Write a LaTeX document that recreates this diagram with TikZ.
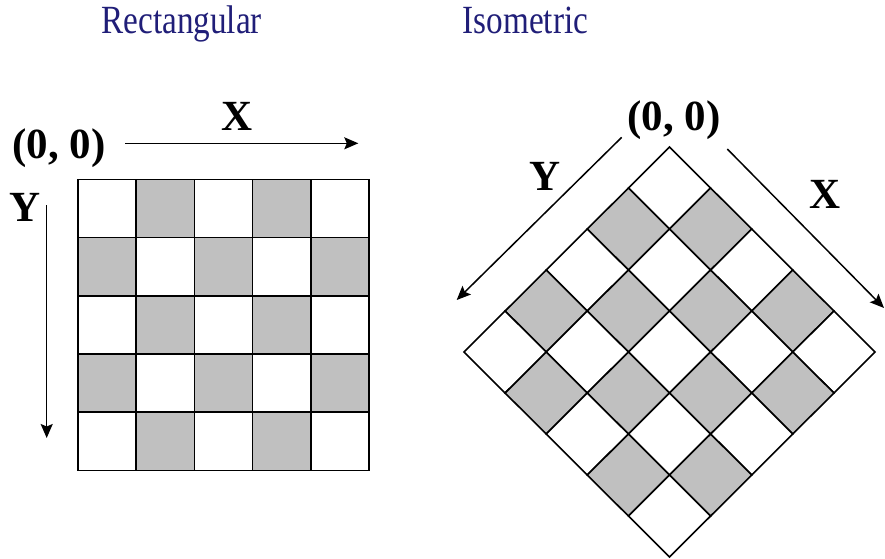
\documentclass[tikz,border=0pt]{standalone}
\usepackage{fontspec}
\setmainfont{Liberation Serif}
\usetikzlibrary{arrows.meta}
\definecolor{navytitle}{RGB}{32,30,120}
\definecolor{cellgray}{RGB}{192,192,192}
\begin{document}
\begin{tikzpicture}[x=1pt, y=-1pt,
  title/.style={font=\fontsize{40}{42}\selectfont, text=navytitle, anchor=base, inner sep=0pt, xscale=0.83, transform shape},
  lbl/.style={font=\fontsize{43}{45}\selectfont\bfseries, anchor=base, inner sep=0pt},
  axis/.style={line width=1.5pt, -{Stealth[length=14pt, width=12pt, inset=2.5pt]}},
  cell/.style={draw=black, line width=1.6pt, line join=miter}]
  \useasboundingbox (0,0) rectangle (885,558);
  % titles
  \node[title] (trect) at (181.7,33.3) {Rectangular};
  \node[title] (tiso) at (525.5,33.3) {Isometric};

  % rectangular grid
  \begin{scope}[shift={(78,179.3)}, x=58.2pt, y=-58.2pt]
    \foreach \c in {0,...,4}
      \foreach \r in {0,...,4} {
        \pgfmathparse{mod(\c+\r,2)==1 ? "cellgray" : "white"}
        \edef\cellfill{\pgfmathresult}
        \draw[cell, fill=\cellfill] (\c,\r) rectangle ++(1,1);
      }
  \end{scope}
  \node[lbl] (orect) at (59,158.3) {(0, 0)};
  \node[lbl] (xrect) at (236.7,130) {X};
  \node[lbl] (yrect) at (25,221.7) {Y};
  \coordinate (rxa) at (125,143.3);
  \coordinate (rxb) at (358.3,143.3);
  \coordinate (rya) at (46.7,205);
  \coordinate (ryb) at (46.7,438);
  \draw[axis] (rxa) -- (rxb);
  \draw[axis] (rya) -- (ryb);

  % isometric grid
  \begin{scope}[shift={(669.5,147)}, x={(41.1pt,-41pt)}, y={(-41.1pt,-41pt)}]
    \foreach \i in {0,...,4}
      \foreach \j in {0,...,4} {
        \pgfmathparse{mod(\i+\j,2)==1 ? "cellgray" : "white"}
        \edef\cellfill{\pgfmathresult}
        \draw[cell, fill=\cellfill] (\i,\j) -- ++(1,0) -- ++(0,1) -- ++(-1,0) -- cycle;
      }
  \end{scope}
  \node[lbl] (oiso) at (674,130) {(0, 0)};
  \node[lbl] (xiso) at (825,208.3) {X};
  \node[lbl] (yiso) at (545,190) {Y};
  \coordinate (iya) at (621.7,137.3);
  \coordinate (iyb) at (456.7,300);
  \coordinate (ixa) at (727.3,149);
  \coordinate (ixb) at (884,308);
  \draw[axis] (iya) -- (iyb);
  \draw[axis] (ixa) -- (ixb);
\end{tikzpicture}
\end{document}
